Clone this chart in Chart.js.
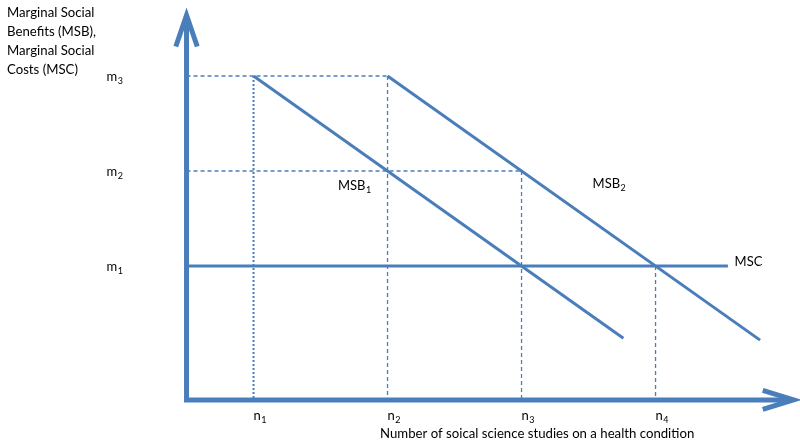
<!DOCTYPE html>
<html>
<head>
<meta charset="utf-8">
<script src="https://cdn.jsdelivr.net/npm/chart.js@4"></script>
<style>
  html, body { margin: 0; background: #fff; }
</style>
</head>
<body>
<canvas id="chart" width="800" height="445"></canvas>
<script>
// tick positions and labels (trailing digit is drawn as subscript)
const xTicks = [1, 2, 3, 4];
const xTickLabels = ["n1", "n2", "n3", "n4"];
const yTicks = [1, 2, 3];
const yTickLabels = ["m1", "m2", "m3"];

// curves
const msb1X = [1, 3.76];
const msb1Y = [3, 0.24];
const msb2X = [2, 4.78];
const msb2Y = [3, 0.22];
const mscX = [0.5, 4.54];
const mscY = [1, 1];

// axes
const originX = 0.5;
const originY = -0.41;
const yAxisTop = 3.64;
const xAxisEnd = 5.03;

const xTitle = "Number of soical science studies on a health condition";
const yTitle = ["Marginal Social", "Benefits (MSB),", "Marginal Social", "Costs (MSC)"];

const curveLabels = [
  { text: "MSB1", x: 1.63, y: 1.8 },
  { text: "MSB2", x: 3.53, y: 1.82 },
  { text: "MSC", x: 4.59, y: 1.0 },
];

const blue = "#4a7ebb";
const FONT = "Lato, 'Open Sans', sans-serif";

const pts = (xs, ys) => xs.map((v, i) => ({ x: v, y: ys[i] }));

function line(data, opts) {
  return Object.assign({
    data: data,
    showLine: true,
    pointRadius: 0,
    borderColor: blue,
    borderWidth: 3,
    fill: false,
    clip: false,
  }, opts);
}

// dashed guide lines from the axes to the intersections
const dash = { borderWidth: 1.3, borderDash: [4, 3] };
const guides = [
  line([{ x: originX, y: 3 }, { x: 2, y: 3 }], dash),
  line([{ x: originX, y: 2 }, { x: 3, y: 2 }], dash),
  line([{ x: 1, y: 3 }, { x: 1, y: originY }], { borderWidth: 2, borderDash: [2, 2] }),
  line([{ x: 2, y: 3 }, { x: 2, y: originY }], dash),
  line([{ x: 3, y: 2 }, { x: 3, y: originY }], dash),
  line([{ x: 4, y: 1 }, { x: 4, y: originY }], dash),
];

const axes = [
  line([{ x: originX, y: yAxisTop - 0.03 }, { x: originX, y: originY }, { x: xAxisEnd - 0.02, y: originY }],
    { borderWidth: 5, borderJoinStyle: "miter" }),
  line([{ x: originX - 0.08, y: yAxisTop - 0.33 }, { x: originX, y: yAxisTop }, { x: originX + 0.08, y: yAxisTop - 0.33 }],
    { borderWidth: 5, borderJoinStyle: "miter" }),
  line([{ x: xAxisEnd - 0.23, y: originY + 0.1 }, { x: xAxisEnd, y: originY }, { x: xAxisEnd - 0.23, y: originY - 0.1 }],
    { borderWidth: 5, borderJoinStyle: "miter" }),
];

function drawSub(ctx, label, px, py, size) {
  const m = label.match(/^(.*?)(\d*)$/);
  ctx.font = size + "px " + FONT;
  ctx.fillText(m[1], px, py);
  if (m[2]) {
    const w = ctx.measureText(m[1]).width;
    ctx.font = Math.round(size * 0.68) + "px " + FONT;
    ctx.fillText(m[2], px + w + 0.5, py + 3);
  }
}

const textPlugin = {
  id: "texts",
  afterDraw(chart) {
    const { ctx } = chart;
    const x = chart.scales.x;
    const y = chart.scales.y;
    ctx.save();
    ctx.fillStyle = "#000";
    ctx.textAlign = "left";
    ctx.textBaseline = "alphabetic";
    const ax = x.getPixelForValue(originX);
    const ay = y.getPixelForValue(originY);

    xTicks.forEach((v, i) => drawSub(ctx, xTickLabels[i], x.getPixelForValue(v), ay + 20, 13));
    yTicks.forEach((v, i) => drawSub(ctx, yTickLabels[i], ax - 80, y.getPixelForValue(v) + 5, 13));

    curveLabels.forEach((c) => drawSub(ctx, c.text, x.getPixelForValue(c.x), y.getPixelForValue(c.y), 13));

    ctx.font = "13.2px " + FONT;
    ctx.fillText(xTitle, x.getPixelForValue(1.944), ay + 38);
    yTitle.forEach((t, i) => ctx.fillText(t, chart.chartArea.left + 7, 17 + i * 19));
    ctx.restore();
  },
};

new Chart(document.getElementById("chart"), {
  type: "scatter",
  data: {
    datasets: [
      ...guides,
      line(pts(mscX, mscY)),
      line(pts(msb1X, msb1Y)),
      line(pts(msb2X, msb2Y)),
      ...axes,
    ],
  },
  options: {
    responsive: false,
    animation: false,
    layout: { padding: 0 },
    plugins: { legend: { display: false }, tooltip: { enabled: false } },
    scales: {
      x: { type: "linear", display: false, min: -0.892, max: 5.078 },
      y: { type: "linear", display: false, min: -0.884, max: 3.8 },
    },
  },
  plugins: [textPlugin],
});
</script>
</body>
</html>
